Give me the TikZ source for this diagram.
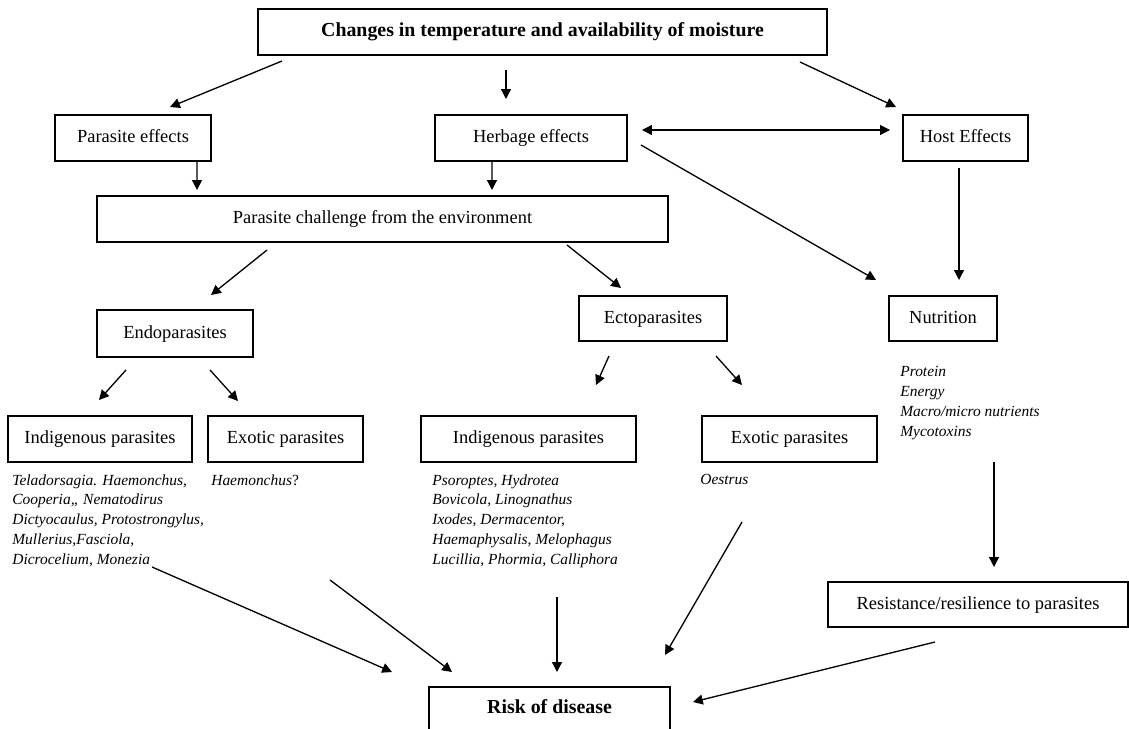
\documentclass[tikz,border=0pt]{standalone}
\usepackage{fontspec}
\setmainfont{Liberation Serif}
\usetikzlibrary{arrows.meta}

\begin{document}
\begin{tikzpicture}[
  x=0.02cm, y=-0.02cm,
  every node/.style={font=\fontsize{10.5}{12}\selectfont},
  box/.style={draw, line width=0.75pt, outer sep=0pt, minimum height=0.92cm, inner sep=2pt, text height=1.6ex, text depth=0.45ex},
  lst/.style={anchor=north west, inner sep=0pt, align=left, font=\fontsize{8.8}{11.3}\selectfont\itshape},
  arr/.style={-{Triangle[length=5.6pt,width=5.6pt]}, line width=0.75pt}
]
  \useasboundingbox (0,0) rectangle (1129,729);

  % Climate driver (top row)
  \node[box, minimum width=11.38cm, font=\fontsize{11.3}{13}\selectfont\bfseries] (climate) at (542.5,32) {Changes in temperature and availability of moisture};

  % Effects row
  \node[box, minimum width=3.12cm] (pareff) at (133,138) {Parasite effects};
  \node[box, minimum width=3.84cm] (herbeff) at (531,138) {Herbage effects};
  \node[box, minimum width=2.5cm] (hosteff) at (965.5,138) {Host Effects};

  \node[box, minimum width=11.42cm] (challenge) at (382.5,219) {Parasite challenge from the environment};

  % Parasite groups
  \node[box, minimum width=3.12cm, minimum height=0.94cm] (endo) at (175,333.5) {Endoparasites};
  \node[box, minimum width=2.96cm, minimum height=0.9cm] (ecto) at (653,318.5) {Ectoparasites};
  \node[box, minimum width=2.16cm, minimum height=0.9cm] (nutr) at (943,318.5) {Nutrition};

  \node[box, minimum width=3.68cm] (endoind) at (100,439) {Indigenous parasites};
  \node[box, minimum width=3.1cm] (endoexo) at (285.5,439) {Exotic parasites};
  \node[box, minimum width=4.3cm] (ectoind) at (528.5,439) {Indigenous parasites};
  \node[box, minimum width=3.5cm] (ectoexo) at (789.5,439) {Exotic parasites};

  % Species and nutrient lists
  \node[lst] (endoindlist) at (12,474) {Teladorsagia. Haemonchus,\\Cooperia,, Nematodirus\\Dictyocaulus, Protostrongylus,\\Mullerius,Fasciola,\\Dicrocelium, Monezia};
  \node[lst] (endoexolist) at (211,474) {Haemonchus\textup{?}};
  \node[lst] (ectoindlist) at (432,474) {Psoroptes, Hydrotea\\Bovicola, Linognathus\\Ixodes, Dermacentor,\\Haemaphysalis, Melophagus\\Lucillia, Phormia, Calliphora};
  \node[lst] (ectoexolist) at (700,474) {Oestrus};
  \node[lst] (nutrlist) at (900,366) {Protein\\Energy\\Macro/micro nutrients\\Mycotoxins};

  \node[box, minimum width=6cm, minimum height=0.9cm] (resist) at (978,604.5) {Resistance/resilience to parasites};
  \node[box, minimum width=4.82cm, minimum height=0.88cm, font=\fontsize{11.3}{13}\selectfont\bfseries] (risk) at (549.5,709) {Risk of disease};

  % Connectors, top half
  \draw[arr] ([shift={(24,6)}]climate.south west) -- ([shift={(115,-8)}]pareff.north west);
  \draw[arr] ([shift={(-36.5,15)}]climate.south) -- ([shift={(-25,-16)}]herbeff.north);
  \draw[arr] ([shift={(-27,7)}]climate.south east) -- ([shift={(-7,-8)}]hosteff.north west);
  \draw[arr, {Triangle[length=5.6pt,width=5.6pt]}-{Triangle[length=5.6pt,width=5.6pt]}] ([shift={(15,-8)}]herbeff.east) -- ([shift={(-13,-8)}]hosteff.west);
  \draw[arr] ([shift={(14,7)}]herbeff.east) -- ([shift={(-13,-16)}]nutr.north west);
  \draw[arr] ([shift={(-6.5,7)}]hosteff.south) -- ([shift={(16,-16)}]nutr.north);
  \draw[arr] ([shift={(-14,0)}]pareff.south east) -- ([shift={(100,-6)}]challenge.north west);
  \draw[arr] ([shift={(-39,0)}]herbeff.south) -- ([shift={(109.5,-6)}]challenge.north);
  \draw[arr] ([shift={(170,8)}]challenge.south west) -- ([shift={(36,-15)}]endo.north);
  \draw[arr] ([shift={(184.5,3)}]challenge.south) -- ([shift={(42,-8)}]ecto.north west);

  % Connectors, parasite groups
  \draw[arr] ([shift={(-49,13)}]endo.south) -- ([shift={(-1,-16)}]endoind.north);
  \draw[arr] ([shift={(35,13)}]endo.south) -- ([shift={(30,-15)}]endoexo.north west);
  \draw[arr] ([shift={(-44,15)}]ecto.south) -- ([shift={(-40,-31)}]ectoind.north east);
  \draw[arr] ([shift={(63,15)}]ecto.south) -- ([shift={(40,-31)}]ectoexo.north west);
  \draw[arr] ([shift={(51,121)}]nutr.south) -- ([shift={(16,-15)}]resist.north);

  % Connectors into risk of disease
  \draw[arr] ([shift={(144,105)}]endoind.south west) -- ([shift={(-37,-37)}]risk.west);
  \draw[arr] ([shift={(122,118)}]endoexo.south west) -- ([shift={(23,-15)}]risk.north west);
  \draw[arr] ([shift={(28.5,135)}]ectoind.south) -- ([shift={(7.5,-15)}]risk.north);
  \draw[arr] ([shift={(-47.5,60)}]ectoexo.south) -- ([shift={(-5,-32)}]risk.north east);
  \draw[arr] ([shift={(107,15)}]resist.south west) -- ([shift={(23,-7)}]risk.east);

\end{tikzpicture}
\end{document}
